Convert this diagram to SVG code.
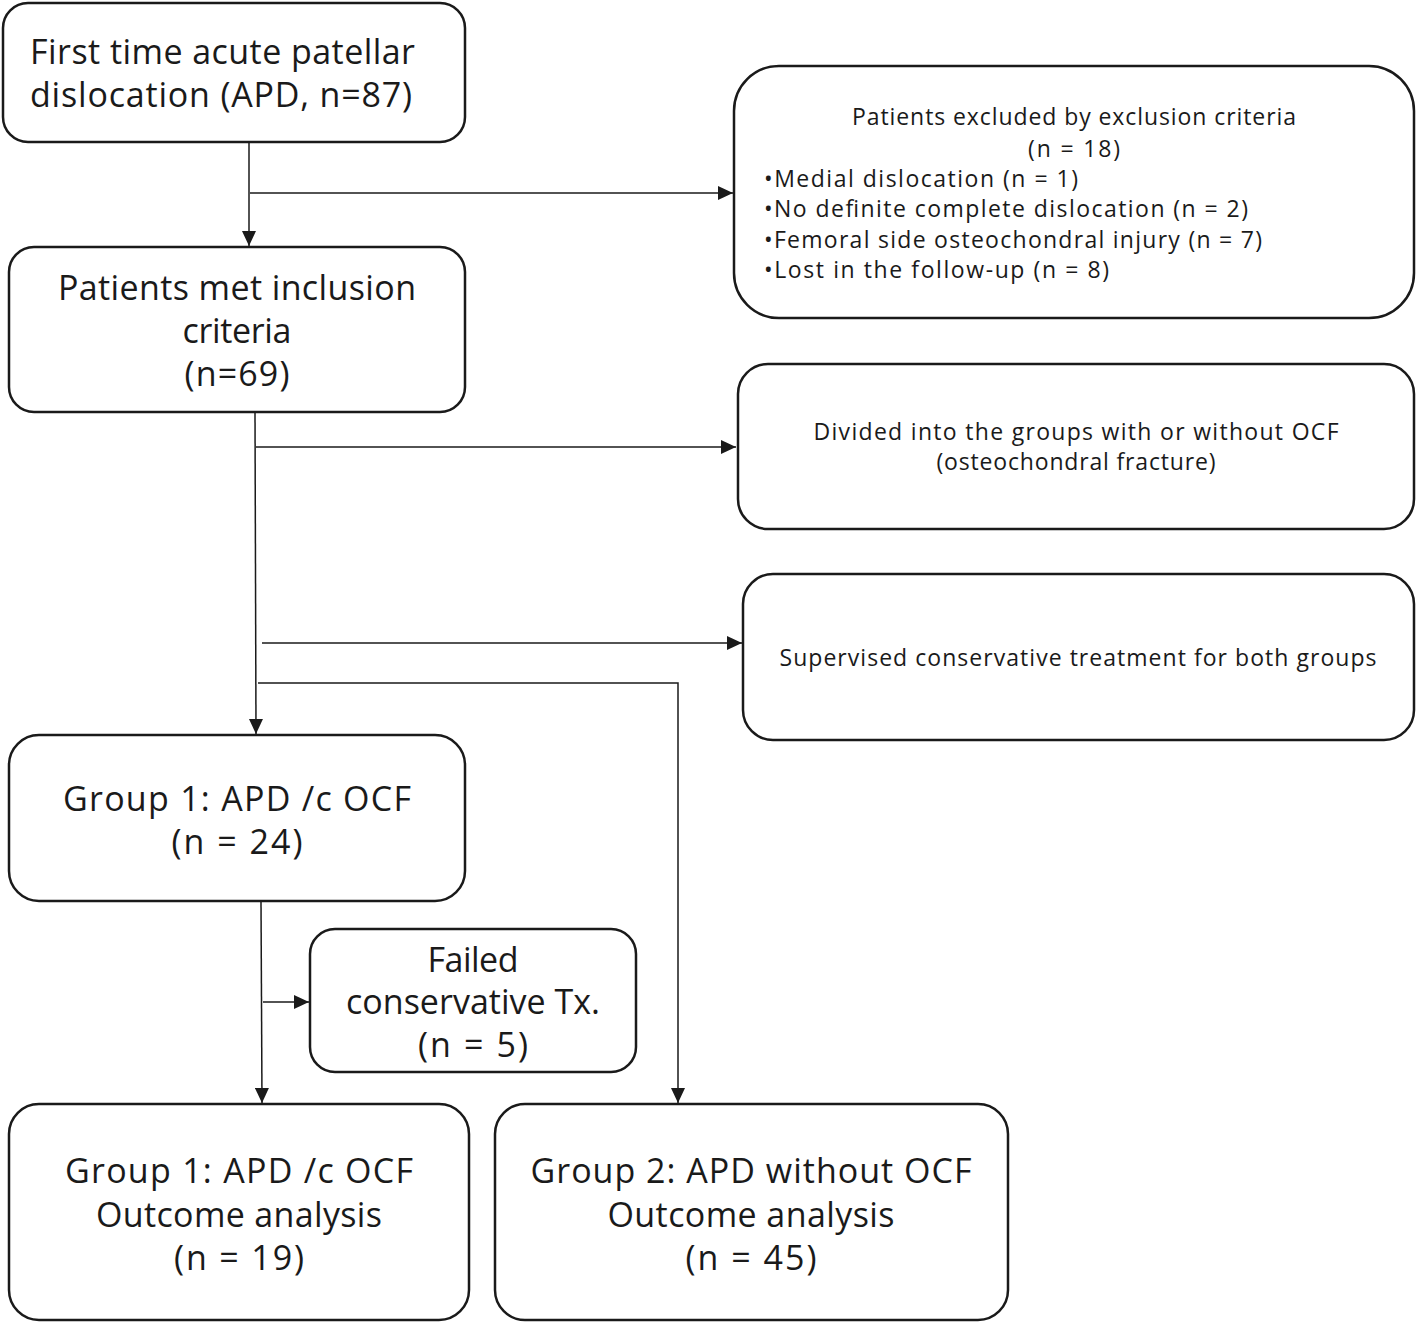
<svg xmlns="http://www.w3.org/2000/svg" width="1418" height="1324" viewBox="0 0 1418 1324">
<style>
.box{fill:#fff;stroke:#1a1a1a;stroke-width:2.5}
.big{font-family:"Open Sans","Noto Sans",sans-serif;font-size:34px;fill:#1a1a1a}
.sm{font-family:"Open Sans","Noto Sans",sans-serif;font-size:23px;fill:#1a1a1a}
.c{text-anchor:middle}
.ln{fill:none;stroke:#1a1a1a;stroke-width:1.5}
</style>
<defs>
<marker id="ah" markerWidth="15" markerHeight="14" refX="15" refY="7" orient="auto" markerUnits="userSpaceOnUse">
<path d="M0,0 L15,7 L0,14 Z" fill="#1a1a1a"/>
</marker>
</defs>
<rect width="1418" height="1324" fill="#fff"/>
<g id="connectors">
<line class="ln" x1="249" y1="142" x2="249" y2="246" marker-end="url(#ah)"/>
<line class="ln" x1="250" y1="193" x2="733" y2="193" marker-end="url(#ah)"/>
<line class="ln" x1="255" y1="412" x2="256" y2="734" marker-end="url(#ah)"/>
<line class="ln" x1="256" y1="447" x2="736" y2="447" marker-end="url(#ah)"/>
<line class="ln" x1="262" y1="643" x2="742" y2="643" marker-end="url(#ah)"/>
<polyline class="ln" points="258,683 678,683 678,1103" marker-end="url(#ah)"/>
<line class="ln" x1="261" y1="901" x2="262" y2="1103" marker-end="url(#ah)"/>
<line class="ln" x1="263" y1="1002" x2="309" y2="1002" marker-end="url(#ah)"/>
</g>
<g id="n1">
<rect class="box" x="3" y="3" width="462" height="139" rx="25"/>
<text class="big" x="30" y="64" textLength="385">First time acute patellar</text>
<text class="big" x="30" y="107" textLength="382">dislocation (APD, n=87)</text>
</g>
<g id="n2">
<rect class="box" x="9" y="247" width="456" height="165" rx="25"/>
<text class="big c" x="237" y="300" textLength="358">Patients met inclusion</text>
<text class="big c" x="237" y="343" textLength="109">criteria</text>
<text class="big c" x="237" y="386" textLength="105">(n=69)</text>
</g>
<g id="n3">
<rect class="box" x="734" y="66" width="680" height="252" rx="45"/>
<text class="sm c" x="1074" y="125" textLength="444">Patients excluded by exclusion criteria</text>
<text class="sm c" x="1074" y="157" textLength="92">(n = 18)</text>
<text class="sm" x="764" y="187" textLength="314">•Medial dislocation (n = 1)</text>
<text class="sm" x="764" y="217" textLength="484">•No definite complete dislocation (n = 2)</text>
<text class="sm" x="764" y="248" textLength="498">•Femoral side osteochondral injury (n = 7)</text>
<text class="sm" x="764" y="278" textLength="345">•Lost in the follow-up (n = 8)</text>
</g>
<g id="n4">
<rect class="box" x="738" y="364" width="676" height="165" rx="30"/>
<text class="sm c" x="1076" y="440" textLength="525">Divided into the groups with or without OCF</text>
<text class="sm c" x="1076" y="470" textLength="279">(osteochondral fracture)</text>
</g>
<g id="n5">
<rect class="box" x="743" y="574" width="671" height="166" rx="30"/>
<text class="sm c" x="1078" y="666" textLength="597">Supervised conservative treatment for both groups</text>
</g>
<g id="n6">
<rect class="box" x="9" y="735" width="456" height="166" rx="30"/>
<text class="big c" x="237" y="811" textLength="348">Group 1: APD /c OCF</text>
<text class="big c" x="237" y="854" textLength="131">(n = 24)</text>
</g>
<g id="n7">
<rect class="box" x="310" y="929" width="326" height="143" rx="25"/>
<text class="big c" x="473" y="972" textLength="91">Failed</text>
<text class="big c" x="473" y="1014" textLength="254">conservative Tx.</text>
<text class="big c" x="473" y="1057" textLength="110">(n = 5)</text>
</g>
<g id="n8">
<rect class="box" x="9" y="1104" width="460" height="216" rx="30"/>
<text class="big c" x="239" y="1183" textLength="348">Group 1: APD /c OCF</text>
<text class="big c" x="239" y="1227" textLength="286">Outcome analysis</text>
<text class="big c" x="239" y="1270" textLength="130">(n = 19)</text>
</g>
<g id="n9">
<rect class="box" x="495" y="1104" width="513" height="216" rx="30"/>
<text class="big c" x="751" y="1183" textLength="441">Group 2: APD without OCF</text>
<text class="big c" x="751" y="1227" textLength="287">Outcome analysis</text>
<text class="big c" x="751" y="1270" textLength="131">(n = 45)</text>
</g>
</svg>
